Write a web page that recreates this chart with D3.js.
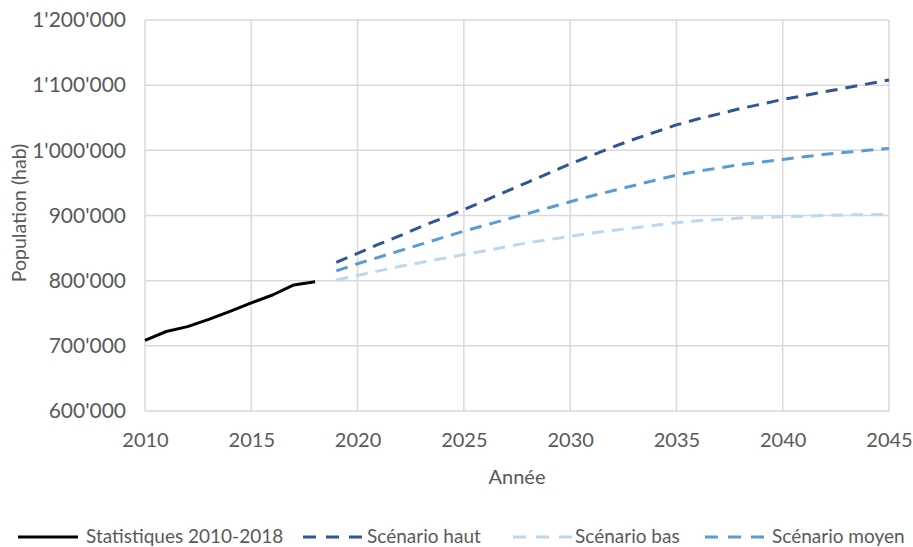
<!DOCTYPE html>
<html><head><meta charset="utf-8">
<script src="https://cdn.jsdelivr.net/npm/d3@7"></script>
<style>body{margin:0;background:#fff}svg{display:block}text{font-family:Lato,"Open Sans",sans-serif;fill:#595959}</style>
</head><body>
<svg id="c" width="913" height="547"></svg>
<script>
const statYears=[2010,2011,2012,2013,2014,2015,2016,2017,2018];
const statValues=[708500,722000,729500,740500,753000,766000,778000,793500,798500];
const scenYears=[2019,2020,2021,2022,2023,2024,2025,2026,2027,2028,2029,2030,2031,2032,2033,2034,2035,2036,2037,2038,2039,2040,2041,2042,2043,2044,2045];
const hautValues=[828000,842000,856000,869000,883000,896000,909000,923000,937000,951000,965000,979000,992000,1005000,1017000,1028000,1039000,1048000,1056000,1064000,1071000,1078000,1084000,1090000,1096000,1102000,1108000];
const basValues=[801000,808000,815000,822000,828000,834000,840000,846000,852000,858000,863000,868000,873000,877000,881000,885000,889000,892000,894000,896000,897000,898000,899000,900000,901000,901000,902000];
const moyenValues=[815000,826000,836000,846000,856000,866000,876000,885000,894000,903000,912000,921000,930000,938000,946000,954000,962000,968000,973000,978000,982000,986000,990000,994000,997000,1000000,1003000];
const xTicks=[2010,2015,2020,2025,2030,2035,2040,2045];
const yTicks=[600000,700000,800000,900000,1000000,1100000,1200000];
const seriesNames=["Statistiques 2010-2018","Scénario haut","Scénario bas","Scénario moyen"];
const colors=["#000000","#2f5597","#bdd7ee","#5b9bd5"];

const svg=d3.select("#c");
const L=145,R=889,T=20,B=411;
const x=d3.scaleLinear().domain([2010,2045]).range([L,R]);
const y=d3.scaleLinear().domain([600000,1200000]).range([B,T]);
const fmt=v=>d3.format(",")(v).replace(/,/g,"'");

svg.append("g").selectAll("line").data(yTicks).join("line")
 .attr("x1",L).attr("x2",R).attr("y1",d=>y(d)).attr("y2",d=>y(d))
 .attr("stroke","#d9d9d9").attr("stroke-width",1.5);
svg.append("g").selectAll("line").data(xTicks).join("line")
 .attr("y1",T).attr("y2",B).attr("x1",d=>x(d)).attr("x2",d=>x(d))
 .attr("stroke","#d9d9d9").attr("stroke-width",1.5);

const ya=svg.append("g").attr("transform",`translate(${L},0)`)
 .call(d3.axisLeft(y).tickValues(yTicks).tickFormat(fmt).tickSize(0).tickPadding(19));
ya.select(".domain").remove();
ya.selectAll("text").attr("font-size",21).attr("fill","#595959").attr("font-family","Lato");
const xa=svg.append("g").attr("transform",`translate(0,${B})`)
 .call(d3.axisBottom(x).tickValues(xTicks).tickFormat(d3.format("d")).tickSize(0).tickPadding(22));
xa.select(".domain").remove();
xa.selectAll("text").attr("font-size",20).attr("fill","#595959").attr("font-family","Lato");

svg.append("text").attr("x",517).attr("y",484).attr("text-anchor","middle").attr("font-size",20).text("Année");
svg.append("text").attr("transform","translate(26,213) rotate(-90)").attr("text-anchor","middle").attr("font-size",19.5).text("Population (hab)");

const line=d3.line().x(d=>x(d[0])).y(d=>y(d[1]));
const series=[
 {pts:statYears.map((t,i)=>[t,statValues[i]]),c:colors[0],dash:null},
 {pts:scenYears.map((t,i)=>[t,hautValues[i]]),c:colors[1],dash:"12,8"},
 {pts:scenYears.map((t,i)=>[t,basValues[i]]),c:colors[2],dash:"12,8"},
 {pts:scenYears.map((t,i)=>[t,moyenValues[i]]),c:colors[3],dash:"12,8"}
];
series.forEach(s=>{
 svg.append("path").datum(s.pts).attr("d",line).attr("fill","none")
  .attr("stroke",s.c).attr("stroke-width",3).attr("stroke-linejoin","round")
  .attr("stroke-dasharray",s.dash);
});

const legX=[18,303,513,705];
const legT=[86,367,575,772];
const lg=svg.append("g");
seriesNames.forEach((n,i)=>{
 lg.append("line").attr("x1",legX[i]).attr("x2",legX[i]+(i==0?60:59)).attr("y1",537).attr("y2",537)
  .attr("stroke",colors[i]).attr("stroke-width",3).attr("stroke-dasharray",i==0?null:"13,10");
 lg.append("text").attr("x",legT[i]).attr("y",543).attr("font-size",19).text(n);
});
</script>
</body></html>
